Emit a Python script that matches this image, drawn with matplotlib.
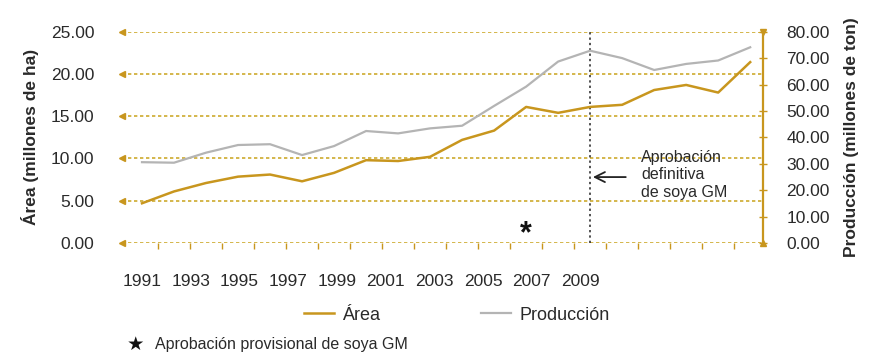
import matplotlib
matplotlib.use("Agg")
import matplotlib.pyplot as plt
import numpy as np
from matplotlib import font_manager

years = list(range(1991, 2011))
area = [4.7, 6.1, 7.1, 7.85, 8.1, 7.3, 8.3, 9.8, 9.7, 10.2, 12.2, 13.3, 16.1, 15.4,
        16.1, 16.35, 18.1, 18.7, 17.8, 21.4]
produccion = [30.6, 30.4, 34.2, 37.1, 37.4, 33.3, 36.7, 42.4, 41.5, 43.4, 44.4, 51.9,
              59.2, 68.7, 72.8, 70.0, 65.5, 67.8, 69.1, 74.1]
tick_labels = ["1991", "1993", "1995", "1997", "1999", "2001", "2003", "2005", "2007", "2009"]
left_ticks = [0, 5, 10, 15, 20, 25]
right_ticks = [0, 10, 20, 30, 40, 50, 60, 70, 80]

names = {f.name for f in font_manager.fontManager.ttflist}
narrow = "Liberation Sans Narrow" if "Liberation Sans Narrow" in names else "Liberation Sans"
plt.rcParams['font.family'] = [narrow, 'DejaVu Sans']

GOLD = "#C8961E"
GRID = "#CDAA2E"
GRAY = "#B4B4B4"
TXT = "#2A2A2A"

fig = plt.figure(figsize=(8.8, 3.57), dpi=100)
ax = fig.add_axes([122/880, 1-243/357, (763-122)/880, (243-31.7)/357])
ax2 = ax.twinx()

ax.set_xlim(1990.375, 2010.4)
ax.set_ylim(0, 25)
ax2.set_ylim(0, 80)

# gridlines with left arrowheads
for v in left_ticks:
    ax.axhline(v, color=GRID, lw=1.2, ls=(0, (2, 1.6)), zorder=1)
    ax.plot([0], [v], marker='<', ms=5, color=GOLD, transform=ax.get_yaxis_transform(),
            clip_on=False, zorder=3)

l1, = ax.plot(years, area, color=GOLD, lw=1.8, zorder=4, label="Área")
l2, = ax2.plot(years, produccion, color=GRAY, lw=1.6, zorder=4, label="Producción")

# spines
for s in ["top", "left", "bottom", "right"]:
    ax.spines[s].set_visible(False)
    ax2.spines[s].set_visible(False)
ax2.spines["right"].set_visible(True)
ax2.spines["right"].set_color(GOLD)
ax2.spines["right"].set_linewidth(1.6)
ax2.plot([1], [80], marker='v', ms=5, color=GOLD, transform=ax2.get_yaxis_transform(), clip_on=False)
ax2.plot([1], [0], marker='^', ms=5, color=GOLD, transform=ax2.get_yaxis_transform(), clip_on=False)

# left ticks
ax.set_yticks(left_ticks)
ax.set_yticklabels([f"{v:.2f}" for v in left_ticks], fontsize=12.5, color=TXT)
ax.tick_params(axis='y', length=0, pad=20)

# right ticks
ax2.set_yticks(right_ticks)
ax2.set_yticklabels([f"{v:.2f}" for v in right_ticks], fontsize=12.5, color=TXT)
ax2.tick_params(axis='y', direction='inout', length=6, width=1, color=GOLD, pad=14)

# x ticks: labels placed as in reference, minor marks at category boundaries
step = 48.7 / 32.0
ax.set_xticks([1991 + i * step for i in range(len(tick_labels))])
ax.set_xticklabels(tick_labels, fontsize=12.5, color=TXT)
ax.tick_params(axis='x', length=0, pad=22)
ax.set_xticks([y + 0.5 for y in years[:-1]], minor=True)
ax.tick_params(axis='x', which='minor', length=4, width=1, color=GOLD, direction='out')

ax.set_ylabel("Área (millones de ha)", fontsize=12.5, fontweight='bold', color=TXT, labelpad=8)
ax2.set_ylabel("Producción (millones de ton)", fontsize=12.5, fontweight='bold', color=TXT, labelpad=10)

# annotation: definitive approval
ax.axvline(2005, color="#222222", lw=1.1, ls=(0, (1.5, 2)), zorder=2)
ax.annotate("", xy=(2005, 7.8), xytext=(2006.2, 7.8),
            arrowprops=dict(arrowstyle="->", color="#222222", lw=1.3, mutation_scale=18))
ax.text(2006.6, 8.05, "Aprobación\ndefinitiva\nde soya GM", fontsize=11.5, color=TXT,
        va='center', ha='left', linespacing=1.2)
ax.text(2003, 1.0, "*", fontsize=22, fontweight='bold', color="#111111", ha='center', va='center')

fig.legend([l1, l2], ["Área", "Producción"], loc='center', bbox_to_anchor=(457/880, 1-315/357),
           ncol=2, frameon=False, fontsize=13, handlelength=1.65, handletextpad=0.45,
           columnspacing=5.6, labelcolor=TXT)

fig.text(135/880, 1-344/357, "\u2605", fontsize=14, family='DejaVu Sans', ha='center',
         va='center', color="#111111")
fig.text(155/880, 1-344/357, "Aprobación provisional de soya GM", fontsize=11.5, ha='left',
         va='center', color=TXT)

fig.savefig("out.png", dpi=100)
